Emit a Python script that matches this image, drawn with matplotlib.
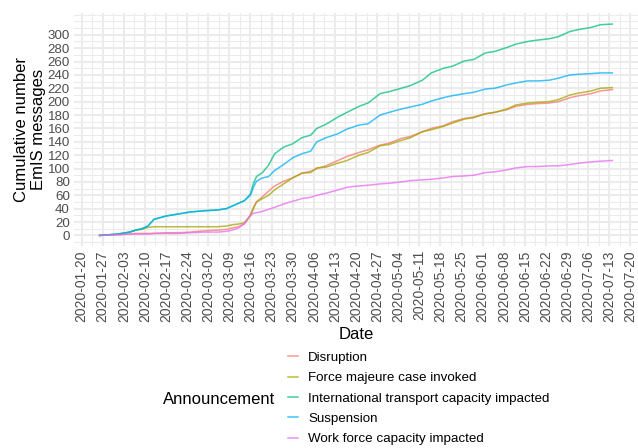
import numpy as np
import pandas as pd
import matplotlib
matplotlib.use("Agg")
import matplotlib.pyplot as plt
import matplotlib.dates as mdates
from matplotlib.ticker import FixedLocator

plt.rcParams["font.family"] = ["Liberation Sans", "DejaVu Sans"]

# ------------------------------------------------------------
# dados (contagem acumulada por tipo de anúncio)
# ------------------------------------------------------------
datas = [
    "2020-01-26", "2020-02-01", "2020-02-05", "2020-02-07", "2020-02-09",
    "2020-02-11", "2020-02-13", "2020-02-17", "2020-02-21", "2020-02-25",
    "2020-03-01", "2020-03-05", "2020-03-08", "2020-03-10", "2020-03-12",
    "2020-03-14", "2020-03-16", "2020-03-17", "2020-03-18", "2020-03-20",
    "2020-03-22", "2020-03-24", "2020-03-27", "2020-03-30", "2020-04-02",
    "2020-04-05", "2020-04-07", "2020-04-10", "2020-04-14", "2020-04-17",
    "2020-04-21", "2020-04-24", "2020-04-28", "2020-05-01", "2020-05-05",
    "2020-05-08", "2020-05-12", "2020-05-15", "2020-05-19", "2020-05-22",
    "2020-05-26", "2020-05-29", "2020-06-02", "2020-06-05", "2020-06-09",
    "2020-06-12", "2020-06-16", "2020-06-19", "2020-06-23", "2020-06-26",
    "2020-06-30", "2020-07-03", "2020-07-07", "2020-07-10", "2020-07-14",
]

disruption = [
    0, 1, 2, 3, 3, 3, 3, 4, 4, 5,
    7, 8, 9, 11, 13, 17, 30, 42, 50, 58,
    66, 74, 81, 86, 93, 96, 100, 104, 112, 118,
    124, 128, 135, 138, 145, 148, 155, 160, 164, 170,
    175, 177, 182, 184, 188, 193, 196, 197, 198, 200,
    206, 209, 212, 216, 218,
]

force_majeure = [
    0, 2, 5, 8, 9, 12, 13, 13, 13, 13,
    13, 13, 14, 16, 17, 19, 30, 40, 50, 55,
    60, 68, 77, 86, 93, 94, 101, 102, 108, 112,
    120, 124, 134, 136, 142, 146, 155, 158, 163, 168,
    174, 176, 182, 184, 189, 195, 198, 199, 200, 203,
    210, 213, 216, 220, 221,
]

international = [
    0, 2, 5, 8, 10, 14, 24, 29, 32, 35,
    37, 38, 40, 44, 48, 52, 62, 78, 88, 94,
    105, 122, 132, 137, 146, 150, 160, 166, 177, 184,
    193, 198, 212, 215, 220, 224, 232, 243, 250, 253,
    261, 263, 273, 275, 281, 286, 290, 292, 294, 297,
    305, 308, 311, 315, 316,
]

suspension = [
    0, 2, 5, 8, 10, 14, 24, 29, 32, 35,
    37, 38, 40, 44, 48, 52, 60, 72, 81, 86,
    88, 97, 106, 116, 122, 126, 140, 146, 152, 159,
    165, 167, 180, 184, 189, 192, 196, 201, 206, 209,
    212, 214, 219, 220, 225, 228, 231, 231, 232, 235,
    240, 241, 242, 243, 243,
]

work_force = [
    0, 1, 2, 2, 2, 2, 3, 3, 3, 4,
    5, 5, 6, 8, 11, 18, 30, 33, 34, 36,
    39, 42, 47, 51, 55, 57, 60, 63, 68, 72,
    74, 75, 77, 78, 80, 82, 83, 84, 86, 88,
    89, 90, 94, 95, 98, 101, 103, 103, 104, 104,
    106, 108, 110, 111, 112,
]

categorias = [
    "Disruption",
    "Force majeure case invoked",
    "International transport capacity impacted",
    "Suspension",
    "Work force capacity impacted",
]
series = [disruption, force_majeure, international, suspension, work_force]
cores = ["#F8766D", "#A3A500", "#00BF7D", "#00B0F6", "#E76BF3"]

y_breaks = list(range(0, 301, 20))

# ------------------------------------------------------------
# gráfico
# ------------------------------------------------------------
datas_dt = pd.to_datetime(datas)

W, H = 638, 448
fig = plt.figure(figsize=(W / 100, H / 100), dpi=100)
ax = fig.add_axes([74 / W, 1 - 246 / H, (638 - 74) / W, (246 - 13.5) / H])

for nome, valores, cor in zip(categorias, series, cores):
    ax.plot(datas_dt, valores, color=cor, linewidth=1.1, alpha=0.75, label=nome)

# limites com expansão de 5% (estilo ggplot)
x0, x1 = mdates.date2num(datas_dt.min()), mdates.date2num(datas_dt.max())
dx = (x1 - x0) * 0.05
ax.set_xlim(x0 - dx, x1 + dx)
y_max = max(max(s) for s in series)
dy = y_max * 0.05
ax.set_ylim(-dy, y_max + dy)

semanas = pd.date_range("2020-01-20", "2020-07-20", freq="7D")
maiores = mdates.date2num(semanas)
ax.xaxis.set_major_locator(FixedLocator(maiores))
ax.xaxis.set_minor_locator(FixedLocator(maiores[:-1] + 3.5))
ax.xaxis.set_major_formatter(mdates.DateFormatter("%Y-%m-%d"))

ax.yaxis.set_major_locator(FixedLocator(y_breaks))
ax.yaxis.set_minor_locator(FixedLocator([v for v in range(-10, 331, 10) if v not in y_breaks]))

ax.grid(which="major", color="#EBEBEB", linewidth=1.5)
ax.grid(which="minor", color="#EBEBEB", linewidth=0.75)
ax.set_axisbelow(True)

for lado in ["top", "right", "left", "bottom"]:
    ax.spines[lado].set_visible(False)

ax.tick_params(axis="both", which="both", length=0, labelcolor="#4D4D4D")
ax.tick_params(axis="y", labelsize=9.6, pad=3)
ax.tick_params(axis="x", labelsize=10, pad=3)
plt.setp(ax.get_xticklabels(), rotation=90)

ax.set_xlabel("Date", fontsize=12, labelpad=4)
ax.set_ylabel("Cumulative number\nEmIS messages", fontsize=12, labelpad=1, linespacing=1.15)

handles, labels = ax.get_legend_handles_labels()
fig.legend(
    handles, labels,
    loc="center left",
    bbox_to_anchor=(288 / W, 1 - 398.5 / H),
    frameon=False,
    fontsize=9.6,
    handlelength=0.75,
    handletextpad=0.75,
    labelspacing=0.6,
    borderpad=0,
    borderaxespad=0,
)
fig.text(163 / W, 1 - 399 / H, "Announcement", fontsize=12, va="center", ha="left")

fig.savefig("out.png", dpi=100, facecolor="white")
